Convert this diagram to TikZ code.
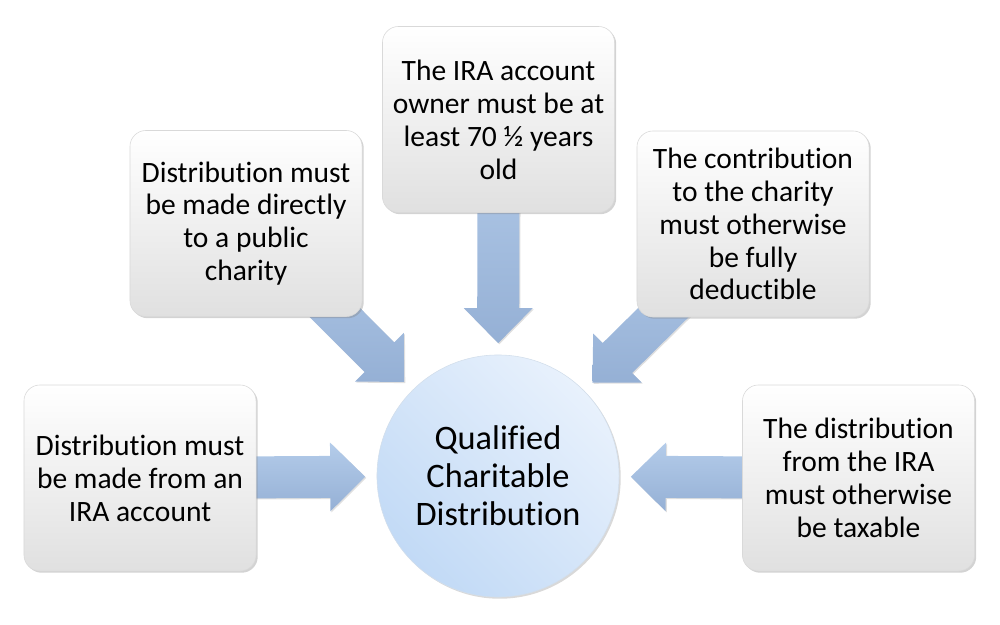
\documentclass[tikz,border=0pt]{standalone}
\usepackage{fontspec}
\setmainfont{Carlito}[Ligatures=NoCommon]
\usetikzlibrary{calc,shadows,backgrounds}

\definecolor{arrowTop}{HTML}{B4CCEA}
\definecolor{arrowBottom}{HTML}{95B0D5}
\definecolor{circleLight}{HTML}{E8F1FC}
\definecolor{circleDark}{HTML}{C2DAF6}
\definecolor{boxBottom}{HTML}{E0E0E0}

% block arrow from #1 to #2
\newcommand{\blockarrow}[2]{%
  \coordinate (h) at ($(#2)!0.875cm!(#1)$);
  \path[arrowfill] ($(#1)!0.525cm!90:(#2)$) -- ($(h)!0.525cm!90:(#2)$)
    -- ($(h)!0.86cm!90:(#2)$) -- (#2) -- ($(h)!0.86cm!-90:(#2)$)
    -- ($(h)!0.525cm!-90:(#2)$) -- ($(#1)!0.525cm!-90:(#2)$) -- cycle;
}

\begin{document}
\begin{tikzpicture}[x=0.025cm,y=-0.025cm,
        rule/.style = {rectangle,
            rounded corners=0.4cm,
            minimum width=5.8cm,
            minimum height=4.65cm,
            align=center,
            draw=gray!30, line width=0.4pt,
            top color=white, bottom color=boxBottom,
            drop shadow={opacity=0.35,shadow xshift=1.2pt,shadow yshift=-1.2pt},
            font=\fontsize{21pt}{23.4pt}\selectfont},
        goal/.style = {circle,
            minimum size=6.05cm,
            align=center,
            draw=circleDark!80!gray!60, line width=0.4pt,
            top color=circleLight, bottom color=circleDark, shading angle=-45,
            drop shadow={opacity=0.3,shadow xshift=1.2pt,shadow yshift=-1.2pt},
            font=\fontsize{24.4pt}{26.9pt}\selectfont},
        arrowfill/.style = {top color=arrowTop, bottom color=arrowBottom,
            drop shadow={opacity=0.25,shadow xshift=0.8pt,shadow yshift=-0.8pt}}]

        \useasboundingbox (0,0) rectangle (1000,625);

        % Centre
        \node[goal] (qcd) at (498,476) {Qualified\\Charitable\\Distribution};

        % Conditions
        \node[rule] (fromIra) at (140,478) {Distribution must\\be made from an\\IRA account};
        \node[rule] (direct) at (246,223.5) {Distribution must\\be made directly\\to a public\\charity};
        \node[rule] (age) at (498.5,119.5) {The IRA account\\owner must be at\\least 70 ½ years\\old};
        \node[rule] (deduct) at (753,224) {The contribution\\to the charity\\must otherwise\\be fully\\deductible};
        \node[rule] (taxable) at (858.5,478) {The distribution\\from the IRA\\must otherwise\\be taxable};

        % Arrow tips
        \foreach \src in {fromIra,direct,age,deduct,taxable}
            \coordinate (tip-\src) at ($(qcd.center)!3.32cm!(\src.center)$);

        % Arrows behind the boxes
        \begin{pgfonlayer}{background}
            \foreach \src in {fromIra,direct,age,deduct,taxable}{
                \blockarrow{\src.center}{tip-\src}
            }
        \end{pgfonlayer}
    \end{tikzpicture}
\end{document}
